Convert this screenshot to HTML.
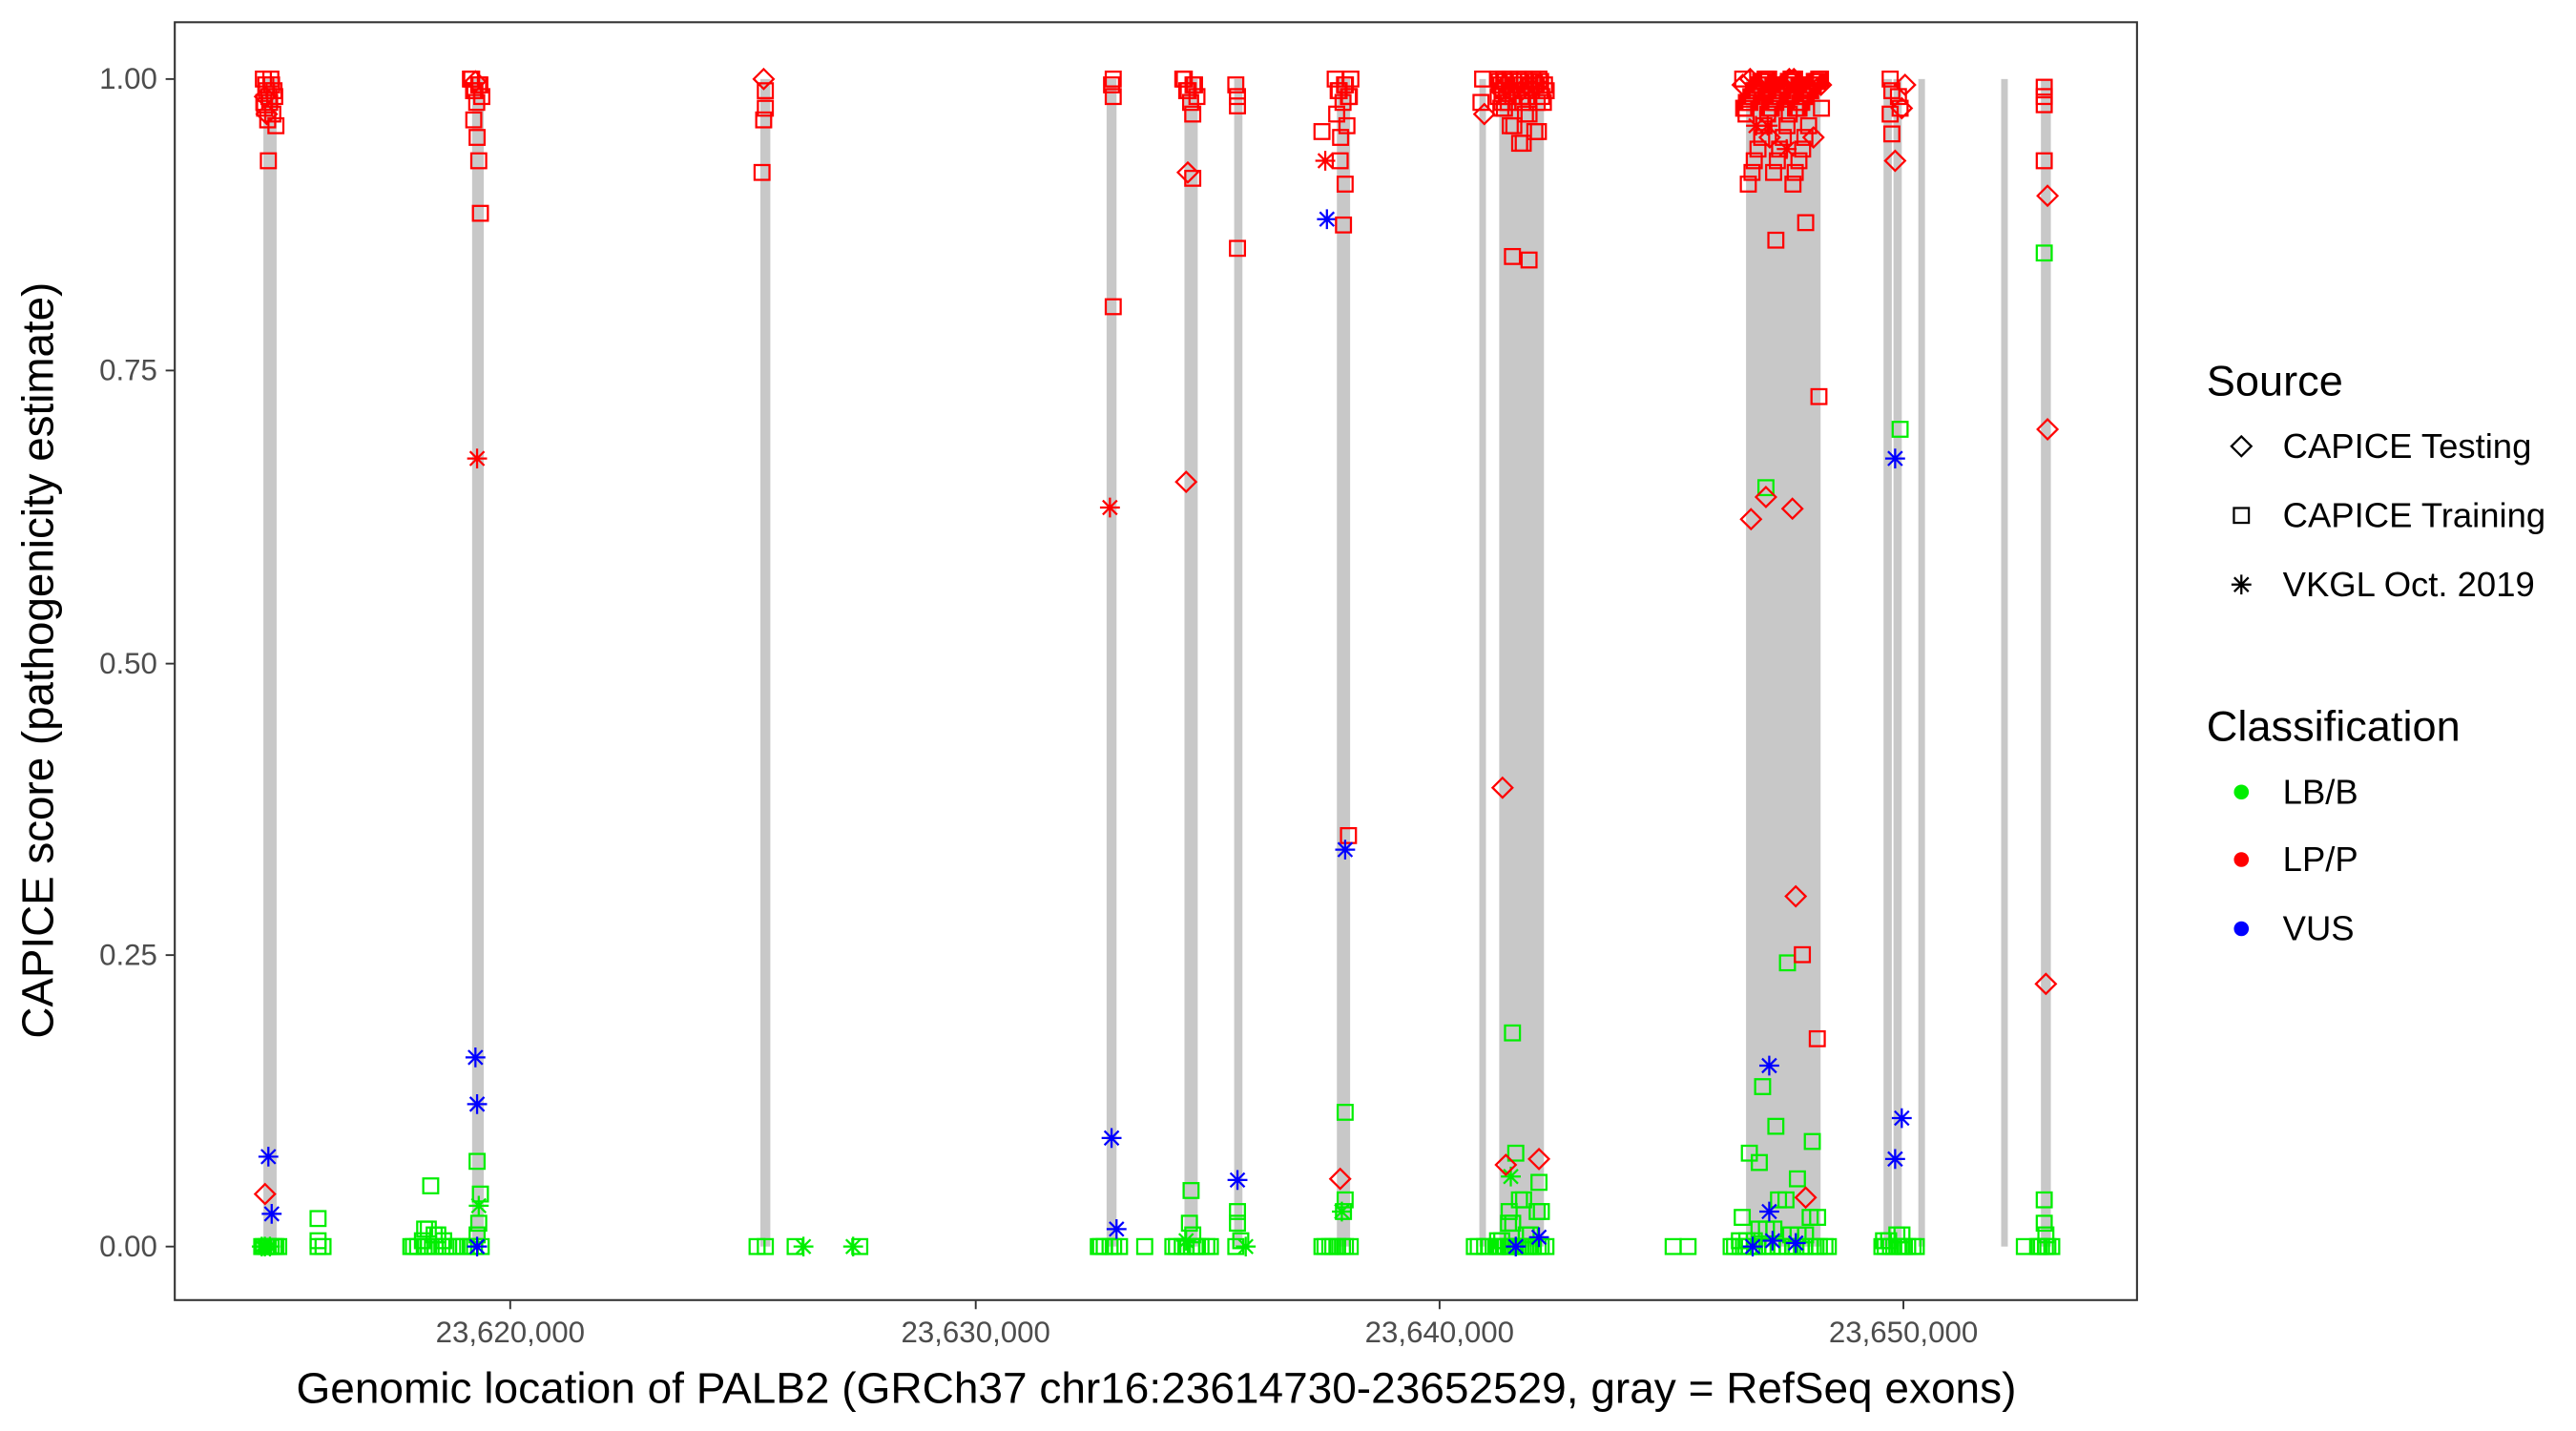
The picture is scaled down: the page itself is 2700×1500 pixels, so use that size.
<!DOCTYPE html>
<html><head><meta charset="utf-8"><style>
html,body{margin:0;padding:0;background:#fff;}
svg{display:block;}
text{font-family:"Liberation Sans",Arial,sans-serif;}
</style></head><body>
<svg id="s" width="2700" height="1500" viewBox="0 0 1555 869" preserveAspectRatio="none" xmlns="http://www.w3.org/2000/svg">
<rect x="0" y="0" width="1555" height="869" fill="#fff"/>
<g id="bars" fill="#c8c8c8"></g>
<g id="pts" fill="none" stroke-width="1.3"></g>
<rect x="105.5" y="13.5" width="1184.5" height="776" fill="none" stroke="#333" stroke-width="1.2"/>
<g stroke="#333" stroke-width="1.1">
<line x1="100" y1="48" x2="105" y2="48"/><line x1="100" y1="225" x2="105" y2="225"/><line x1="100" y1="403" x2="105" y2="403"/><line x1="100" y1="580" x2="105" y2="580"/><line x1="100" y1="757" x2="105" y2="757"/>
<line x1="308" y1="790" x2="308" y2="795"/><line x1="589" y1="790" x2="589" y2="795"/><line x1="869" y1="790" x2="869" y2="795"/><line x1="1149" y1="790" x2="1149" y2="795"/>
</g>
<g fill="#4d4d4d" font-size="18" text-anchor="end">
<text x="95" y="54">1.00</text><text x="95" y="231">0.75</text><text x="95" y="409">0.50</text><text x="95" y="586">0.25</text><text x="95" y="763">0.00</text>
</g>
<g fill="#4d4d4d" font-size="18" text-anchor="middle">
<text x="308" y="815">23,620,000</text><text x="589" y="815">23,630,000</text><text x="869" y="815">23,640,000</text><text x="1149" y="815">23,650,000</text>
</g>
<text x="698" y="852" font-size="26.5" text-anchor="middle">Genomic location of PALB2 (GRCh37 chr16:23614730-23652529, gray = RefSeq exons)</text>
<text transform="translate(32,401) rotate(-90)" font-size="26.5" text-anchor="middle">CAPICE score (pathogenicity estimate)</text>
<text x="1332" y="240" font-size="26">Source</text>
<text x="1378" y="278" font-size="21">CAPICE Testing</text>
<text x="1378" y="320" font-size="21">CAPICE Training</text>
<text x="1378" y="362" font-size="21">VKGL Oct. 2019</text>
<text x="1332" y="450" font-size="26">Classification</text>
<text x="1378" y="488" font-size="21">LB/B</text>
<text x="1378" y="529" font-size="21">LP/P</text>
<text x="1378" y="571" font-size="21">VUS</text>
<g id="leg" fill="none" stroke-width="1.3"></g>
</svg>
<script>
var NS="http://www.w3.org/2000/svg";
function el(p,t,a){var e=document.createElementNS(NS,t);for(var k in a)e.setAttribute(k,a[k]);p.appendChild(e);return e;}
var bars=document.getElementById('bars'),P=document.getElementById('pts'),L=document.getElementById('leg');
var Y=function(v){return 757-709*v;};
[[159,8],[285,7],[459,6],[668,6],[715,8],[745,5],[807,8],[893,4],[905,27],[1054,45],[1137,5],[1143,5],[1158,4],[1208,4],[1232,6]].forEach(function(b){el(bars,'rect',{x:b[0],y:48,width:b[1],height:709});});
var C={g:'#00ee00',r:'#ff0000',b:'#0000ff',k:'#000'};
function sq(p,x,y,c){el(p,'rect',{x:x-4.5,y:y-4.5,width:9,height:9,stroke:C[c]});}
function di(p,x,y,c){el(p,'path',{d:'M'+x+' '+(y-6)+'L'+(x+6)+' '+y+'L'+x+' '+(y+6)+'L'+(x-6)+' '+y+'Z',stroke:C[c]});}
function st(p,x,y,c){el(p,'path',{d:'M'+(x-6)+' '+y+'H'+(x+6)+'M'+x+' '+(y-6)+'V'+(y+6)+'M'+(x-4.3)+' '+(y-4.3)+'L'+(x+4.3)+' '+(y+4.3)+'M'+(x-4.3)+' '+(y+4.3)+'L'+(x+4.3)+' '+(y-4.3),stroke:C[c]});}
var F={s:sq,d:di,a:st};
function add(list){list.forEach(function(q){F[q[0]](P,q[1],Y(q[2]),q[3]);});}
function many(t,x0,x1,vals,c,n){for(var i=0;i<n;i++){var x=x0+(x1-x0)*((i*0.618)%1);var v=vals[i%vals.length];F[t](P,x,Y(v),c);}}
many('s',158,170,[0],'g',8);many('a',158,166,[0],'g',3);
add([['s',192,0.024,'g'],['s',192,0.005,'g'],['s',192,0,'g'],['s',195,0,'g']]);
add([['d',160,0.045,'r'],['a',162,0.077,'b'],['a',164,0.028,'b']]);
many('s',159,167,[1,0.995,0.99,0.985,0.98,0.975,0.97,0.965,0.96],'r',14);
add([['s',162,0.93,'r'],['d',160,0.985,'r'],['d',161,0.97,'r']]);
many('s',248,293,[0],'g',14);many('s',255,270,[0.005,0.01,0.015],'g',6);
add([['s',260,0.052,'g'],['s',288,0.073,'g'],['s',290,0.045,'g'],['s',289,0.02,'g'],['s',288,0.01,'g'],['a',289,0.035,'g'],['a',288,0,'b'],['a',287,0.162,'b'],['a',288,0.122,'b'],['a',288,0.675,'r']]);
many('s',284,292,[1,0.995,0.99,0.985,0.98],'r',8);
add([['s',286,0.965,'r'],['s',288,0.95,'r'],['s',289,0.93,'r'],['s',290,0.885,'r'],['d',287,0.998,'r']]);
add([['s',457,0,'g'],['s',462,0,'g'],['s',480,0,'g'],['a',485,0,'g'],['a',515,0,'g'],['s',519,0,'g']]);
add([['d',461,1,'r'],['s',462,0.99,'r'],['s',462,0.975,'r'],['s',461,0.965,'r'],['s',460,0.92,'r']]);
many('s',663,678,[0],'g',6);add([['s',691,0,'g']]);
add([['s',672,1,'r'],['s',671,0.995,'r'],['s',672,0.985,'r'],['s',672,0.805,'r'],['a',670,0.633,'r'],['a',671,0.093,'b'],['a',674,0.015,'b']]);
many('s',708,732,[0],'g',10);
add([['s',719,0.048,'g'],['s',718,0.02,'g'],['s',720,0.01,'g'],['a',716,0.005,'g']]);
many('s',714,724,[1,0.995,0.99,0.985,0.98],'r',8);
add([['s',720,0.97,'r'],['s',720,0.915,'r'],['d',717,0.92,'r'],['d',716,0.655,'r']]);
add([['s',746,0.995,'r'],['s',747,0.985,'r'],['s',747,0.977,'r'],['s',747,0.855,'r'],['a',747,0.057,'b'],['s',747,0.03,'g'],['s',747,0.02,'g'],['s',746,0,'g'],['s',749,0.005,'g'],['a',752,0,'g']]);
many('s',798,818,[0],'g',8);
add([['s',812,0.115,'g'],['s',812,0.04,'g'],['s',811,0.03,'g'],['a',810,0.03,'g'],['d',809,0.058,'r'],['s',814,0.352,'r'],['a',812,0.34,'b'],['a',801,0.88,'b'],['a',800,0.93,'r'],['s',798,0.955,'r'],['s',809,0.93,'r'],['s',812,0.91,'r'],['s',811,0.875,'r']]);
many('s',806,816,[1,0.995,0.99,0.985,0.98,0.97,0.96,0.95],'r',12);
add([['s',895,1,'r'],['s',894,0.98,'r'],['d',896,0.97,'r']]);many('s',890,900,[0],'g',4);
many('s',903,935,[0],'g',16);many('s',904,932,[0.005,0.01,0.02,0.03,0.04],'g',10);
add([['s',913,0.183,'g'],['s',915,0.08,'g'],['a',912,0.06,'g'],['s',911,0.03,'g'],['s',929,0.055,'g'],['a',915,0,'b'],['a',929,0.008,'b'],['d',907,0.393,'r'],['d',909,0.07,'r'],['d',929,0.075,'r'],['s',913,0.848,'r'],['s',923,0.845,'r']]);
many('s',904,934,[1,0.998,0.995,0.99,0.985,0.98],'r',40);
many('s',906,930,[0.975,0.97,0.96,0.955,0.945],'r',10);many('d',906,932,[0.99,0.995],'r',6);
many('s',1045,1105,[0],'g',22);many('s',1050,1100,[0.005,0.01,0.015,0.025,0.04],'g',14);
add([['s',1010,0,'g'],['s',1019,0,'g'],['s',1056,0.08,'g'],['s',1062,0.072,'g'],['s',1094,0.09,'g'],['s',1064,0.137,'g'],['s',1072,0.103,'g'],['s',1079,0.243,'g'],['s',1066,0.65,'g'],['s',1085,0.058,'g'],
['a',1068,0.155,'b'],['a',1068,0.03,'b'],['a',1070,0.005,'b'],['a',1084,0.003,'b'],['a',1058,0,'b'],
['d',1090,0.042,'r'],['s',1097,0.178,'r'],['s',1088,0.25,'r'],['d',1084,0.3,'r'],['d',1057,0.623,'r'],['d',1066,0.642,'r'],['d',1082,0.632,'r'],['s',1098,0.728,'r'],['s',1072,0.862,'r'],['s',1090,0.877,'r']]);
many('s',1052,1100,[1,0.998,0.995,0.99,0.985,0.98,0.975],'r',60);
many('s',1054,1094,[0.97,0.96,0.95,0.94,0.93,0.92,0.91],'r',20);many('d',1052,1102,[0.995,1,0.99,0.95],'r',10);many('a',1060,1090,[0.96,0.94],'r',3);
many('s',1136,1158,[0],'g',10);many('s',1137,1150,[0.005,0.01],'g',4);
add([['s',1141,1,'r'],['s',1142,0.99,'r'],['s',1146,0.985,'r'],['s',1147,0.975,'r'],['s',1141,0.97,'r'],['s',1142,0.953,'r'],['d',1144,0.93,'r'],['d',1150,0.995,'r'],['d',1148,0.975,'r'],['s',1147,0.7,'g'],['a',1144,0.675,'b'],['a',1148,0.11,'b'],['a',1144,0.075,'b']]);
many('s',1230,1240,[0],'g',6);add([['s',1222,0,'g'],['s',1234,0.04,'g'],['s',1234,0.02,'g'],['s',1235,0.01,'g'],['s',1234,0.851,'g'],['s',1234,0.993,'r'],['s',1234,0.985,'r'],['s',1234,0.978,'r'],['s',1234,0.93,'r'],['d',1236,0.9,'r'],['d',1236,0.7,'r'],['d',1235,0.225,'r']]);
di(L,1353,271,'k');sq(L,1353,313,'k');st(L,1353,355,'k');
el(L,'circle',{cx:1353,cy:481,r:4.5,fill:'#00ee00',stroke:'none'});
el(L,'circle',{cx:1353,cy:522,r:4.5,fill:'#ff0000',stroke:'none'});
el(L,'circle',{cx:1353,cy:564,r:4.5,fill:'#0000ff',stroke:'none'});
</script>
</body></html>
